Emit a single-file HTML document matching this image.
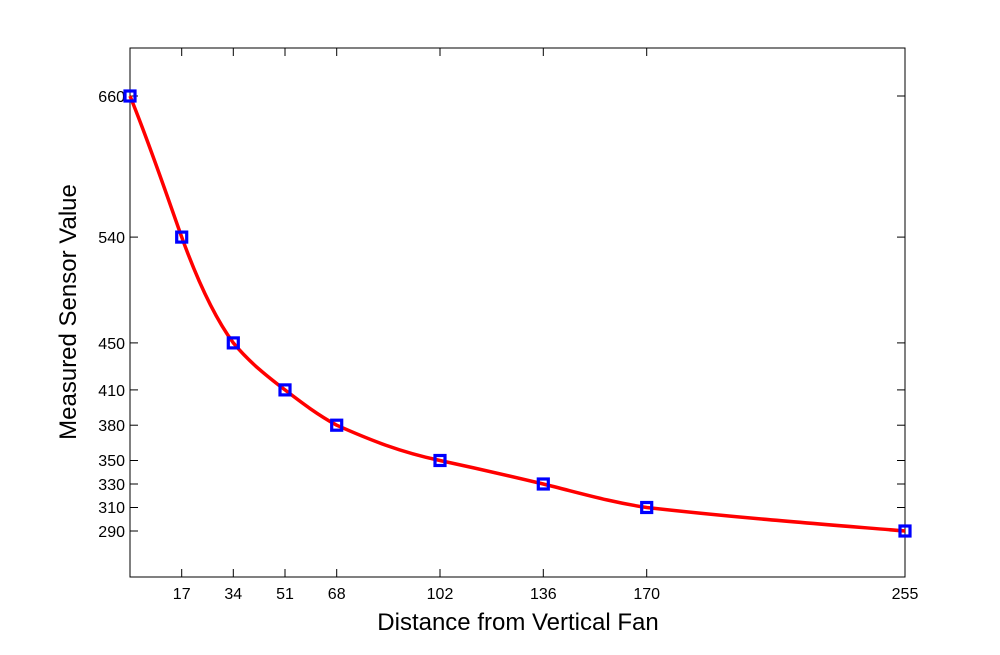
<!DOCTYPE html>
<html><head><style>body{margin:0;background:#fff}</style></head><body>
<svg width="1000" height="650" xmlns="http://www.w3.org/2000/svg" font-family="Liberation Sans, sans-serif">
<rect width="1000" height="650" fill="#fff"/>
<rect x="130" y="48" width="775" height="529" fill="none" stroke="#000" stroke-width="1"/>
<g stroke="#000" stroke-width="1">
<line x1="181.7" y1="577" x2="181.7" y2="569"/><line x1="233.3" y1="577" x2="233.3" y2="569"/><line x1="285" y1="577" x2="285" y2="569"/><line x1="336.7" y1="577" x2="336.7" y2="569"/><line x1="440" y1="577" x2="440" y2="569"/><line x1="543.3" y1="577" x2="543.3" y2="569"/><line x1="646.7" y1="577" x2="646.7" y2="569"/>
<line x1="181.7" y1="48" x2="181.7" y2="56"/><line x1="233.3" y1="48" x2="233.3" y2="56"/><line x1="285" y1="48" x2="285" y2="56"/><line x1="336.7" y1="48" x2="336.7" y2="56"/><line x1="440" y1="48" x2="440" y2="56"/><line x1="543.3" y1="48" x2="543.3" y2="56"/><line x1="646.7" y1="48" x2="646.7" y2="56"/>
<line x1="130" y1="96" x2="138" y2="96"/><line x1="130" y1="237.1" x2="138" y2="237.1"/><line x1="130" y1="342.9" x2="138" y2="342.9"/><line x1="130" y1="389.9" x2="138" y2="389.9"/><line x1="130" y1="425.2" x2="138" y2="425.2"/><line x1="130" y1="460.5" x2="138" y2="460.5"/><line x1="130" y1="484" x2="138" y2="484"/><line x1="130" y1="507.5" x2="138" y2="507.5"/><line x1="130" y1="531" x2="138" y2="531"/>
<line x1="905" y1="96" x2="897" y2="96"/><line x1="905" y1="237.1" x2="897" y2="237.1"/><line x1="905" y1="342.9" x2="897" y2="342.9"/><line x1="905" y1="389.9" x2="897" y2="389.9"/><line x1="905" y1="425.2" x2="897" y2="425.2"/><line x1="905" y1="460.5" x2="897" y2="460.5"/><line x1="905" y1="484" x2="897" y2="484"/><line x1="905" y1="507.5" x2="897" y2="507.5"/><line x1="905" y1="531" x2="897" y2="531"/>
</g>
<g font-size="16" text-anchor="middle">
<text x="181.7" y="599">17</text><text x="233.3" y="599">34</text><text x="285" y="599">51</text><text x="336.7" y="599">68</text><text x="440" y="599">102</text><text x="543.3" y="599">136</text><text x="646.7" y="599">170</text><text x="905" y="599">255</text>
</g>
<g font-size="16" text-anchor="end">
<text x="125" y="102">660</text><text x="125" y="243">540</text><text x="125" y="349">450</text><text x="125" y="396">410</text><text x="125" y="431">380</text><text x="125" y="466">350</text><text x="125" y="490">330</text><text x="125" y="513">310</text><text x="125" y="537">290</text>
</g>
<text x="518" y="630" font-size="24" text-anchor="middle">Distance from Vertical Fan</text>
<text transform="translate(76,312) rotate(-90)" font-size="24" text-anchor="middle">Measured Sensor Value</text>
<path d="M130,96 C148,140 165,190 181.7,237.1 C198,282 215,318 233.3,342.9 C250,363 268,377 285,389.9 C302,403 318,415 336.7,425.2 C370,440 400,452 440,460.5 C475,468 510,476 543.3,484 C580,493 610,502 646.7,507.5 C740,518 820,524 905,531" fill="none" stroke="#f00" stroke-width="3.5"/>
<g fill="none" stroke="#00f" stroke-width="3.2">
<rect x="125" y="91" width="10" height="10"/><rect x="176.7" y="232.1" width="10" height="10"/><rect x="228.3" y="337.9" width="10" height="10"/><rect x="280" y="384.9" width="10" height="10"/><rect x="331.7" y="420.2" width="10" height="10"/><rect x="435" y="455.5" width="10" height="10"/><rect x="538.3" y="479" width="10" height="10"/><rect x="641.7" y="502.5" width="10" height="10"/><rect x="900" y="526" width="10" height="10"/>
</g>
</svg>
</body></html>
